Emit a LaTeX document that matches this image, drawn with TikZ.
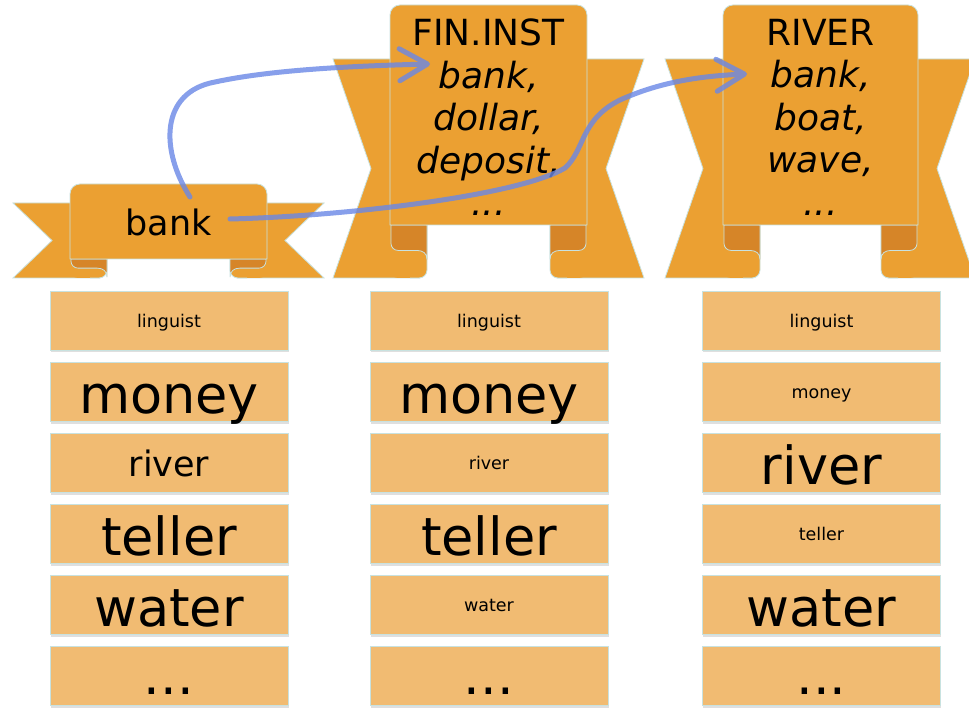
\documentclass[tikz,border=0pt]{standalone}
\usepackage{fontspec}
\setmainfont{DejaVu Sans}
\usetikzlibrary{arrows.meta,shadows}
\definecolor{banner}{RGB}{235,160,50}
\definecolor{curl}{RGB}{214,133,40}
\definecolor{boxfill}{RGB}{241,187,114}
\definecolor{edge}{RGB}{200,226,224}
\definecolor{arrowblue}{RGB}{105,135,230}
\newcommand\szS{\fontsize{17.5}{21}\selectfont}
\newcommand\szM{\fontsize{35}{42}\selectfont}
\newcommand\szL{\fontsize{52.5}{63}\selectfont}
\newcommand\szT{\fontsize{36}{42.5}\selectfont}
% #1 L, #2 R, #3 top, #4 B, #5 WT, #6 WB, #7 OL, #8 OR, #9 notch inset
\newcommand\ribbon[9]{%
  \path[wing] (#7,#5) -- ({#1+30},#5) -- ({#1+30},#6) -- (#7,#6) -- ({#7+#9},{(#5+#6)/2}) -- cycle;
  \path[wing] (#8,#5) -- ({#2-30},#5) -- ({#2-30},#6) -- (#8,#6) -- ({#8-#9},{(#5+#6)/2}) -- cycle;
  % left curl
  \fill[banner, rounded corners=8] (#1,{#4-10}) rectangle ({#1+37},#6);
  \draw[edge, line width=0.8] ({#1+37},#4) [rounded corners=8]-- ({#1+37},#6) [sharp corners]-- ({#1+20},#6);
  \filldraw[fill=curl, draw=edge, line width=0.8] ({#1+37},#4) -- ({#1+1},#4) [rounded corners=7]-- ({#1+1},{#4+(#6-#4)*0.48}) [sharp corners]-- ({#1+27},{#4+(#6-#4)*0.48})
     .. controls ({#1+33},{#4+(#6-#4)*0.48}) and ({#1+37},{#4+(#6-#4)*0.48+3}) .. ({#1+37},{#4+(#6-#4)*0.48+9}) -- cycle;
  % right curl
  \fill[banner, rounded corners=8] ({#2-37},{#4-10}) rectangle (#2,#6);
  \draw[edge, line width=0.8] ({#2-37},#4) [rounded corners=8]-- ({#2-37},#6) [sharp corners]-- ({#2-20},#6);
  \filldraw[fill=curl, draw=edge, line width=0.8] ({#2-37},#4) -- ({#2-1},#4) [rounded corners=7]-- ({#2-1},{#4+(#6-#4)*0.48}) [sharp corners]-- ({#2-27},{#4+(#6-#4)*0.48})
     .. controls ({#2-33},{#4+(#6-#4)*0.48}) and ({#2-37},{#4+(#6-#4)*0.48+3}) .. ({#2-37},{#4+(#6-#4)*0.48+9}) -- cycle;
  % front panel
  \path[wing] (#1,#4) [rounded corners=10]-- (#1,#3) -- (#2,#3) [sharp corners]-- (#2,#4) -- cycle;
}
\begin{document}
\begin{tikzpicture}[x=1pt,y=-1pt,
  wing/.style={fill=banner, draw=edge, line width=0.8},
  box/.style={fill=boxfill, draw=edge, line width=0.8, minimum width=238, minimum height=59, inner sep=0,
    drop shadow={shadow xshift=0.5pt, shadow yshift=-2.5pt, opacity=0.25}},
  bs/.style={box, font=\szS, text height=20, text depth=6},
  bm/.style={box, font=\szM, text height=35, text depth=8},
  bl/.style={box, font=\szL, text height=50, text depth=6},
  bd/.style={box, font=\szL, text height=46, text depth=8},
  title/.style={anchor=north, inner sep=0, align=center, font=\szT},
  arrowline/.style={draw=arrowblue, line width=5, line cap=round,
    -{Straight Barb[length=28pt,width=32pt,round]}}]
\useasboundingbox (0,0) rectangle (969,708);
\fill[white] (0,0) rectangle (969,708);

% banners
\ribbon{70}{267}{184}{259}{203}{278}{13}{324}{39}
\ribbon{390}{587}{5}{225}{59}{278}{333}{644}{38}
\ribbon{723}{918}{5}{225}{59}{278}{665}{975}{38}

\node[anchor=base, inner sep=0, font=\szM] (bank) at (168.5,236) {bank};
\node[title] (fin) at (488.5,19) {FIN.INST\\ \textit{bank,}\\ \textit{dollar,}\\ \textit{deposit,}\\ \textit{...}};
\node[title] (riv) at (820.5,19) {RIVER\\ \textit{bank,}\\ \textit{boat,}\\ \textit{wave,}\\ \textit{...}};

% column 1
\node[bs] (a1) at (169,320.5) {linguist};
\node[bl] (a2) at (169,391.5) {money};
\node[bm] (a3) at (169,462.5) {river};
\node[bl] (a4) at (169,533.5) {teller};
\node[bl] (a5) at (169,604.5) {water};
\node[bd] (a6) at (169,675.5) {...};
% column 2
\node[bs] (b1) at (489,320.5) {linguist};
\node[bl] (b2) at (489,391.5) {money};
\node[bs] (b3) at (489,462.5) {river};
\node[bl] (b4) at (489,533.5) {teller};
\node[bs] (b5) at (489,604.5) {water};
\node[bd] (b6) at (489,675.5) {...};
% column 3
\node[bs] (c1) at (821.5,320.5) {linguist};
\node[bs] (c2) at (821.5,391.5) {money};
\node[bl] (c3) at (821.5,462.5) {river};
\node[bs] (c4) at (821.5,533.5) {teller};
\node[bl] (c5) at (821.5,604.5) {water};
\node[bd] (c6) at (821.5,675.5) {...};

% arrows
\coordinate (s1) at (190,197);
\coordinate (e1) at (430,64);
\coordinate (s2) at (230,219);
\coordinate (e2) at (747,74);
\begin{scope}[transparency group, opacity=0.8]
\draw[arrowline] (s1) .. controls (160,150) and (160,92) .. (215,82) .. controls (270,70) and (350,66) .. (e1);
\end{scope}
\begin{scope}[transparency group, opacity=0.8]
\draw[arrowline] (s2) .. controls (350,216) and (520,195) .. (565,168) .. controls (585,150) and (580,120) .. (620,100) .. controls (660,82) and (700,76) .. (e2);
\end{scope}
\end{tikzpicture}
\end{document}
